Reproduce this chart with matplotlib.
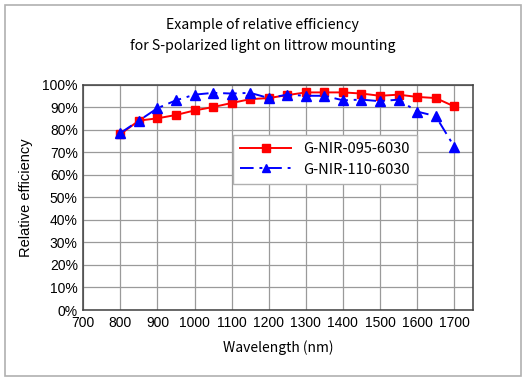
import matplotlib
matplotlib.use("Agg")
import matplotlib.pyplot as plt
from matplotlib.patches import Rectangle
from matplotlib.ticker import PercentFormatter

wavelength = [800, 850, 900, 950, 1000, 1050, 1100, 1150, 1200, 1250,
              1300, 1350, 1400, 1450, 1500, 1550, 1600, 1650, 1700]
eff_095 = [78, 84, 85, 86.5, 88.5, 90, 91.8, 93.5, 94, 95.3,
           96.5, 96.5, 96.5, 96, 95, 95.5, 94.5, 94, 90.3]
eff_110 = [78.5, 84, 89.5, 93, 95.5, 96.3, 96, 96.3, 94, 95.5,
           95, 95, 93, 93.3, 92.6, 93.3, 88, 86, 72.5]
xticks = [700, 800, 900, 1000, 1100, 1200, 1300, 1400, 1500, 1600, 1700]

jp = "Noto Sans CJK JP"
fig = plt.figure(figsize=(5.25, 3.8), dpi=100)
ax = fig.add_axes([0.1587, 0.1842, 0.7417, 0.5934])

# outer gray frame
fig.patches.append(Rectangle((5 / 525, 4 / 380), 516 / 525, 371 / 380,
                             transform=fig.transFigure, fill=False,
                             edgecolor="#b0b0b0", linewidth=1.2))

ax.plot(wavelength, eff_095, color="#ff0000", marker="s", markersize=6.3,
        linewidth=1.4, label="G-NIR-095-6030", zorder=3)
ax.plot(wavelength, eff_110, color="#0000ff", marker="^", markersize=7,
        linewidth=1.4, linestyle=(0, (7, 3, 1.5, 3)), label="G-NIR-110-6030", zorder=4)

ax.set_xlim(700, 1750)
ax.set_ylim(0, 100)
ax.set_xticks(xticks)
ax.set_yticks(range(0, 101, 10))
ax.yaxis.set_major_formatter(PercentFormatter(decimals=0))
ax.tick_params(length=0, labelsize=10, pad=4)
for lab in ax.get_xticklabels() + ax.get_yticklabels():
    lab.set_fontfamily("Liberation Sans")
ax.grid(True, color="#9a9a9a", linewidth=0.9)
ax.set_axisbelow(True)
for s in ax.spines.values():
    s.set_color("#404040")
    s.set_linewidth(1.1)

ax.set_xlabel("Wavelength (nm)", family=jp, fontsize=10, labelpad=8)
ax.set_ylabel("Relative efficiency", family="Liberation Sans", fontsize=10.5, labelpad=7)

fig.text(0.5, 1 - 25 / 380, "Example of relative efficiency", ha="center", va="center",
         family=jp, fontsize=10.2)
fig.text(0.5, 1 - 46 / 380, "for S-polarized light on littrow mounting", ha="center",
         va="center", family=jp, fontsize=10.2)

leg = ax.legend(loc="upper left", bbox_to_anchor=(0.366, 0.81), fancybox=False,
                edgecolor="#b0b0b0", framealpha=1, handlelength=3.5,
                prop={"family": jp, "size": 10.5}, borderpad=0.5, labelspacing=0.45,
                markerscale=0.85)
leg.get_frame().set_linewidth(1.0)

fig.savefig("out.png", dpi=100)
